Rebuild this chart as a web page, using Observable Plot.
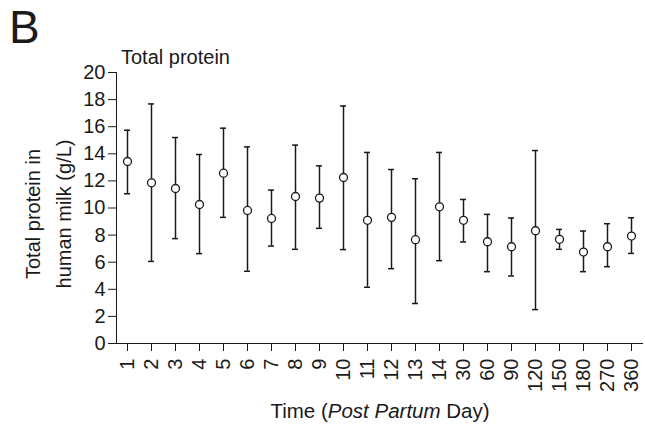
<!DOCTYPE html>
<html>
<head>
<meta charset="utf-8">
<script src="https://cdn.jsdelivr.net/npm/d3@7"></script>
<script src="https://cdn.jsdelivr.net/npm/@observablehq/plot@0.6"></script>
<style>
  html, body { margin: 0; padding: 0; background: white; }
  #chart { width: 645px; height: 432px; }
</style>
</head>
<body>
<div id="chart"></div>
<script>
const days = ["1","2","3","4","5","6","7","8","9","10","11","12","13","14","30","60","90","120","150","180","270","360"];
const meanValues  = [13.43, 11.86, 11.44, 10.26, 12.57, 9.82, 9.23, 10.85, 10.73, 12.25, 9.09, 9.31, 7.66, 10.09, 9.09, 7.51, 7.14, 8.32, 7.69, 6.75, 7.14, 7.93];
const upperValues = [15.74, 17.68, 15.20, 13.95, 15.89, 14.51, 11.32, 14.64, 13.11, 17.53, 14.10, 12.84, 12.16, 14.10, 10.63, 9.53, 9.26, 14.24, 8.42, 8.30, 8.84, 9.28];
const lowerValues = [11.05, 6.06, 7.74, 6.63, 9.31, 5.33, 7.19, 6.95, 8.50, 6.93, 4.15, 5.52, 2.95, 6.11, 7.49, 5.30, 4.98, 2.50, 6.95, 5.30, 5.67, 6.65];
const yTicks = [0, 2, 4, 6, 8, 10, 12, 14, 16, 18, 20];

const data = days.map((d, i) => ({day: d, mean: meanValues[i], hi: upperValues[i], lo: lowerValues[i]}));
const ink = "#1a1a1a";

const chart = Plot.plot({
  width: 645,
  height: 432,
  marginLeft: 116,
  marginRight: 3,
  marginTop: 72,
  marginBottom: 89,
  style: {fontFamily: "'Liberation Sans', Arial, sans-serif", fontSize: "20px", color: ink, background: "white"},
  x: {type: "band", domain: days, paddingInner: 0.75, paddingOuter: 0.29, label: null, tickRotate: -90, tickSize: 8, tickPadding: 7, line: true},
  y: {domain: [0, 20], ticks: yTicks, label: null, tickSize: 8, tickPadding: 3, line: true},
  marks: [
    Plot.ruleX(data, {x: "day", y1: "lo", y2: "hi", stroke: ink, strokeWidth: 1.5}),
    Plot.tickY(data, {x: "day", y: "hi", stroke: ink, strokeWidth: 1.5}),
    Plot.tickY(data, {x: "day", y: "lo", stroke: ink, strokeWidth: 1.5}),
    Plot.dot(data, {x: "day", y: "mean", r: 4, fill: "white", stroke: ink, strokeWidth: 1.3})
  ]
});

const svg = d3.select(chart);
const ff = "'Liberation Sans', Arial, sans-serif";
svg.append("text").attr("x", 9).attr("y", 43).attr("text-anchor", "start").attr("font-size", 46).attr("font-family", ff).attr("fill", ink).text("B");
svg.append("text").attr("x", 121).attr("y", 64).attr("text-anchor", "start").attr("font-size", 20).attr("font-family", ff).attr("fill", ink).text("Total protein");
svg.append("text").attr("transform", "translate(40,214) rotate(-90)").attr("text-anchor", "middle").attr("font-size", 20).attr("font-family", ff).attr("fill", ink).text("Total protein in");
svg.append("text").attr("transform", "translate(71,214) rotate(-90)").attr("text-anchor", "middle").attr("font-size", 20).attr("font-family", ff).attr("fill", ink).text("human milk (g/L)");
const xl = svg.append("text").attr("x", 380).attr("y", 418).attr("text-anchor", "middle").attr("font-size", 20.5).attr("font-family", ff).attr("fill", ink);
xl.append("tspan").text("Time (");
xl.append("tspan").attr("font-style", "italic").text("Post Partum");
xl.append("tspan").text(" Day)");

document.getElementById("chart").appendChild(chart);
</script>
</body>
</html>
